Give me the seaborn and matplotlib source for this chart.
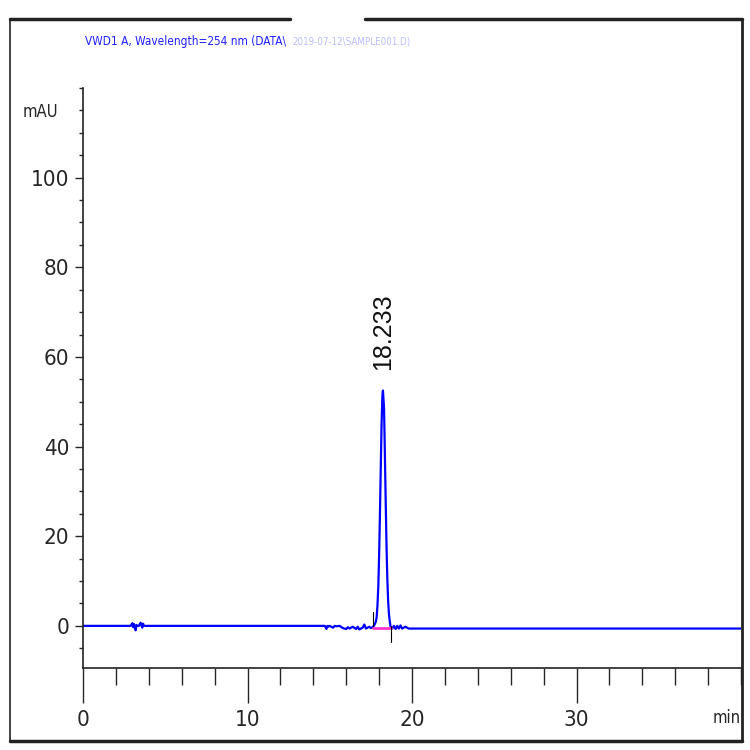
import matplotlib
matplotlib.use("Agg")
import matplotlib.pyplot as plt
import pandas as pd
import seaborn as sns
from matplotlib.lines import Line2D
from matplotlib.ticker import MultipleLocator

# detector trace (minutes, mAU)
time_min = [
    0.0, 2.9, 3.0, 3.05, 3.1, 3.2, 3.25, 3.3, 3.4, 3.5, 3.6, 3.65, 3.7, 3.8, 3.9,
    14.7, 14.8, 14.85, 14.9, 15.0, 15.2, 15.3, 15.4, 15.6, 15.8, 16.0, 16.1,
    16.2, 16.4, 16.6, 16.7, 16.8, 17.0, 17.1, 17.2, 17.4, 17.5, 17.6, 17.7,
    17.8, 17.85, 17.9, 17.95, 18.0, 18.05, 18.1, 18.15, 18.2, 18.233, 18.3,
    18.35, 18.4, 18.45, 18.5, 18.55, 18.6, 18.65, 18.7, 18.8, 18.9, 19.0,
    19.1, 19.2, 19.3, 19.4, 19.6, 19.8, 20.0, 40.0,
]
signal_mau = [
    0.0, 0.0, 0.6, -0.3, 0.4, -1.0, 0.2, 0.0, 0.0, 0.7, -0.4, 0.5, 0.0, 0.0, 0.0,
    0.0, -0.7, 0.0, -0.2, 0.0, -0.4, 0.0, -0.1, 0.0, -0.5, -0.7, -0.3,
    -0.6, -0.2, -0.7, -0.2, -0.8, -0.4, 0.3, -0.6, -0.2, -0.5, -0.3, 0.1,
    0.9, 1.9, 4.5, 8.6, 15.5, 24.6, 35.0, 45.0, 51.3, 52.5, 48.6,
    38.6, 28.0, 18.0, 10.5, 5.5, 2.5, 1.0, -0.3, -0.6, 0.0, -0.7,
    0.0, -0.6, 0.1, -0.6, -0.2, -0.6, -0.6, -0.6,
]

peak_rt = 18.233
peak_height = 52.5
baseline_start, baseline_end = 17.6, 18.7
baseline_level = -0.5

x_ticks = [0, 10, 20, 30]
y_ticks = [0, 20, 40, 60, 80, 100]
header = "VWD1 A, Wavelength=254 nm (DATA\\"
header_faded = "2019-07-12\\SAMPLE001.D)"

sns.set_style("ticks")
plt.rcParams["font.family"] = ["DejaVu Sans"]
plt.rcParams["font.stretch"] = "condensed"

fig = plt.figure(figsize=(7.5, 7.5), dpi=100)
ax = fig.add_axes([83 / 750, 1 - 668 / 750, (741 - 83) / 750, (668 - 88) / 750])

trace = pd.DataFrame({"time": time_min, "signal": signal_mau})
sns.lineplot(data=trace, x="time", y="signal", ax=ax, color="#0000ff",
             linewidth=1.6, estimator=None, sort=False)

# integration baseline and peak start/end marks
ax.plot([baseline_start, baseline_end], [baseline_level, baseline_level],
        color="#ff33cc", linewidth=2.0)
ax.plot([baseline_start, baseline_start], [0.0, 3.0], color="black", linewidth=0.8)
ax.plot([baseline_end, baseline_end], [0.0, -3.5], color="black", linewidth=0.8)

ax.text(peak_rt, peak_height + 4.5, f"{peak_rt:.3f}", rotation=90, ha="center",
        va="bottom", fontsize=18, family=["Liberation Sans", "DejaVu Sans"],
        stretch="normal", color="#111111")

ax.set_xlim(0, 40)
ax.set_ylim(-9.4, 120)
ax.set_xticks(x_ticks)
ax.set_yticks(y_ticks)
ax.xaxis.set_minor_locator(MultipleLocator(2))
ax.yaxis.set_minor_locator(MultipleLocator(5))
ax.tick_params(axis="x", which="major", length=25, width=1, labelsize=16, pad=5)
ax.tick_params(axis="x", which="minor", length=12, width=1)
ax.tick_params(axis="y", which="major", length=6, width=1, labelsize=16, pad=4)
ax.tick_params(axis="y", which="minor", length=3, width=1)
ax.set_xlabel("")
ax.set_ylabel("")
for side in ["top", "right"]:
    ax.spines[side].set_visible(False)
for side in ["left", "bottom"]:
    ax.spines[side].set_linewidth(1.2)
    ax.spines[side].set_color("#222222")

fig.text(58 / 750, 1 - 112 / 750, "mAU", ha="right", va="center", fontsize=12)
fig.text(741 / 750, 1 - 718 / 750, "min", ha="right", va="center", fontsize=12)

fig.text(85 / 750, 1 - 41 / 750, header, color="#2020ff", fontsize=8.5,
         ha="left", va="center")
fig.text(292 / 750, 1 - 41 / 750, header_faded, color="#9090ff", fontsize=7,
         ha="left", va="center", alpha=0.6)

# outer frame with a gap at the top
frame = [
    ([10, 290], [19, 19], 2.5), ([365, 742], [19, 19], 2.5),
    ([10, 10], [19, 741], 1.2), ([742, 742], [19, 741], 2.0),
    ([10, 742], [741, 741], 2.5),
]
for xs, ys, lw in frame:
    fig.add_artist(Line2D([x / 750 for x in xs], [1 - y / 750 for y in ys],
                          color="#222222", linewidth=lw))

fig.savefig("out.png", dpi=100, facecolor="white")
